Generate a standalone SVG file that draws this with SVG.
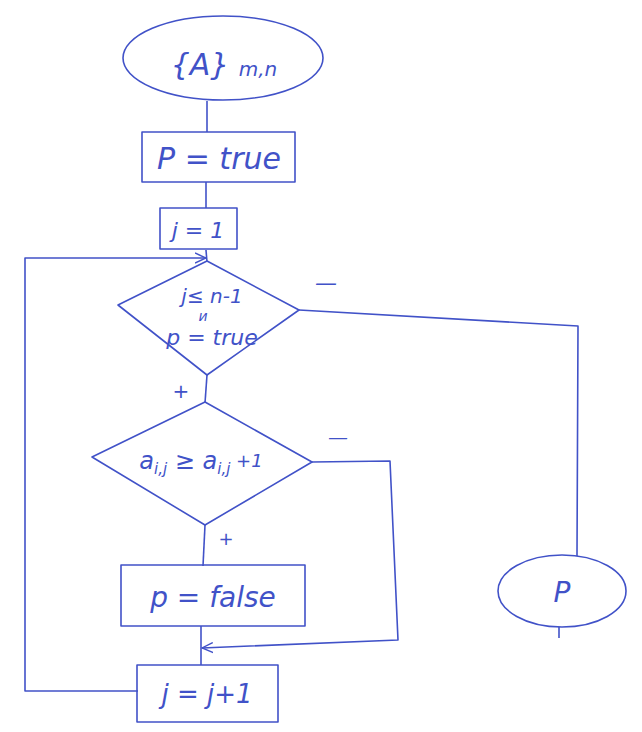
<svg xmlns="http://www.w3.org/2000/svg" width="642" height="732" viewBox="0 0 642 732">
<defs>
<marker id="arr" viewBox="0 0 12 12" refX="11" refY="6" markerWidth="12" markerHeight="12" markerUnits="userSpaceOnUse" orient="auto">
<path d="M0,1 L11,6 L0,11" fill="none" stroke="#4152c8" stroke-width="1.4"/>
</marker>
</defs>
<style>
.s{fill:none;stroke:#4152c8;stroke-width:1.6;stroke-linejoin:round}
.t{fill:#4152c8;font-family:"DejaVu Sans","Liberation Sans",sans-serif;font-style:italic;text-anchor:middle}
</style>
<rect width="642" height="732" fill="#ffffff"/>
<g id="connectors">
<path class="s" d="M207,101 L207,132"/>
<path class="s" d="M206,182 L206,208"/>
<path class="s" d="M206,250 L207,262"/>
<path class="s" d="M138,691 L25,691 L25,258 L206,258" marker-end="url(#arr)"/>
<path class="s" d="M299,310 L578,326 L577,556"/>
<path class="s" d="M207,375 L205,403"/>
<path class="s" d="M312,462 L390,461 L398,640 L202,648" marker-end="url(#arr)"/>
<path class="s" d="M205,525 L203,566"/>
<path class="s" d="M201,626 L201,665"/>
<path class="s" d="M559,627 L559,638"/>
<text class="t" x="326" y="290" font-size="22">—</text>
<text class="t" x="181" y="398" font-size="20">+</text>
<text class="t" x="338" y="444" font-size="20">—</text>
<text class="t" x="226" y="545" font-size="18">+</text>
</g>
<g id="start">
<ellipse class="s" cx="223" cy="58" rx="100" ry="42"/>
<text class="t" x="200" y="75" font-size="30">{A}</text>
<text class="t" x="258" y="76" font-size="20">m,n</text>
</g>
<g id="init-p">
<rect class="s" x="142" y="132" width="153" height="50"/>
<text class="t" x="219" y="169" font-size="30">P = true</text>
</g>
<g id="init-j">
<rect class="s" x="160" y="208" width="77" height="41"/>
<text class="t" x="198" y="238" font-size="22">j = 1</text>
</g>
<g id="cond1">
<path class="s" d="M207,261 L299,310 L207,375 L118,305 Z"/>
<text class="t" x="212" y="303" font-size="20">j≤ n-1</text>
<text class="t" x="203" y="321" font-size="14">и</text>
<text class="t" x="212" y="345" font-size="22">p = true</text>
</g>
<g id="cond2">
<path class="s" d="M205,402 L312,462 L205,525 L92,457 Z"/>
<text class="t" x="201" y="469" font-size="24">a<tspan font-size="15" dy="5">i,j</tspan><tspan dy="-5"> ≥ a</tspan><tspan font-size="15" dy="5">i,j</tspan><tspan font-size="18" dy="-7"> +1</tspan></text>
</g>
<g id="set-false">
<rect class="s" x="121" y="565" width="184" height="61"/>
<text class="t" x="213" y="607" font-size="28">p = false</text>
</g>
<g id="inc-j">
<rect class="s" x="137" y="665" width="141" height="57"/>
<text class="t" x="207" y="703" font-size="26">j = j+1</text>
</g>
<g id="end">
<ellipse class="s" cx="562" cy="591" rx="64" ry="36"/>
<text class="t" x="562" y="602" font-size="28">P</text>
</g>
</svg>
